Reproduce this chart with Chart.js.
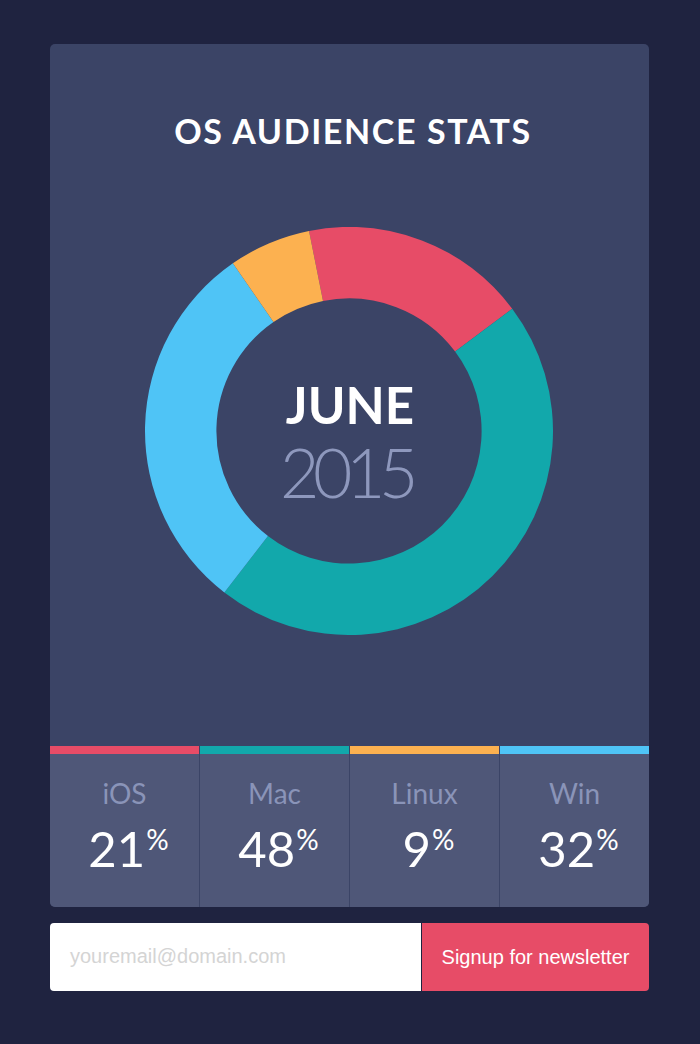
<!DOCTYPE html>
<html>
<head>
<meta charset="utf-8">
<script src="https://cdn.jsdelivr.net/npm/chart.js@4/dist/chart.umd.min.js"></script>
<style>
  html, body { margin:0; padding:0; background:#1f2340; width:700px; height:1044px; overflow:hidden; }
  .card { position:absolute; left:50px; top:44px; width:599px; height:863px; background:#3b4466; border-radius:5px; overflow:hidden; }
  .title { position:absolute; left:0; top:110px; width:706px; text-align:center; color:#fff; font-family:Lato, "Open Sans", sans-serif; font-weight:700; font-size:34px; letter-spacing:1.6px; }
  #wrap { position:absolute; left:145px; top:227px; width:408px; height:408px; }
  .center1 { position:absolute; left:0; width:700px; top:374px; text-align:center; color:#fff; font-family:Lato, sans-serif; font-weight:700; font-size:51px; }
  .center2 { position:absolute; left:0; width:692px; top:431px; text-align:center; color:#8e98bd; font-family:Lato, sans-serif; font-weight:300; font-size:68px; letter-spacing:-6.5px; }
  .stats { position:absolute; left:50px; top:746px; width:599px; height:161px; display:flex; border-radius:0 0 5px 5px; overflow:hidden; }
  .col { flex:0 0 150px; height:161px; background:#4f5778; position:relative; box-sizing:border-box; }
  .col:first-child { flex-basis:149px; }
  .col + .col { border-left:1px solid #3b4466; }
  .col .bar { position:absolute; left:0; top:0; right:0; height:8px; }
  .col .lab { position:absolute; left:0; right:0; top:30px; text-align:center; color:#8a94b8; font-family:Lato, sans-serif; font-size:28px; }
  .col .val { position:absolute; left:8px; right:0; top:73px; text-align:center; color:#fff; font-family:Lato, sans-serif; font-size:49px; }
  .col .val sup { font-size:28px; vertical-align:top; position:relative; top:3px; margin-left:1px; }
  .email { position:absolute; left:50px; top:923px; width:371px; height:68px; background:#fff; border-radius:4px 0 0 4px; }
  .email span { position:absolute; left:20px; top:22px; color:#d4d4d4; font-family:"Liberation Sans", Arial, sans-serif; font-size:20px; }
  .btn { position:absolute; left:422px; top:923px; width:227px; height:68px; background:#e74c67; border-radius:0 4px 4px 0; color:#fff; font-family:"Liberation Sans", Arial, sans-serif; font-size:20px; text-align:center; line-height:68px; }
</style>
</head>
<body>
<div class="card"></div>
<div class="title">OS AUDIENCE STATS</div>
<div id="wrap"><canvas id="c" width="408" height="408"></canvas></div>
<div class="center1">JUNE</div>
<div class="center2">2015</div>
<div class="stats" id="stats"></div>
<div class="email"><span>youremail@domain.com</span></div>
<div class="btn">Signup for newsletter</div>
<script>
// Donut segments (clockwise from the top-left start)
const segmentLabels = ["iOS", "Mac", "Win", "Linux"];
const segmentValues = [17.9, 45.7, 29.9, 6.5];
const segmentColors = ["#e74c67", "#12a8ab", "#4fc4f6", "#fcb150"];

// Stat boxes under the donut
const statLabels = ["iOS", "Mac", "Linux", "Win"];
const statValues = [21, 48, 9, 32];
const statColors = ["#e74c67", "#12a8ab", "#fcb150", "#4fc4f6"];

const stats = document.getElementById('stats');
statLabels.forEach((l, i) => {
  const d = document.createElement('div');
  d.className = 'col';
  d.innerHTML = '<div class="bar" style="background:' + statColors[i] + '"></div>' +
    '<div class="lab">' + l + '</div>' +
    '<div class="val">' + statValues[i] + '<sup>%</sup></div>';
  stats.appendChild(d);
});

new Chart(document.getElementById('c'), {
  type: 'doughnut',
  data: {
    labels: segmentLabels,
    datasets: [{
      data: segmentValues,
      backgroundColor: segmentColors,
      borderWidth: 0,
      hoverOffset: 0
    }]
  },
  options: {
    responsive: false,
    animation: false,
    cutout: '65%',
    rotation: -11.3,
    layout: { padding: 0 },
    plugins: { legend: { display: false }, tooltip: { enabled: false } }
  }
});
</script>
</body>
</html>
